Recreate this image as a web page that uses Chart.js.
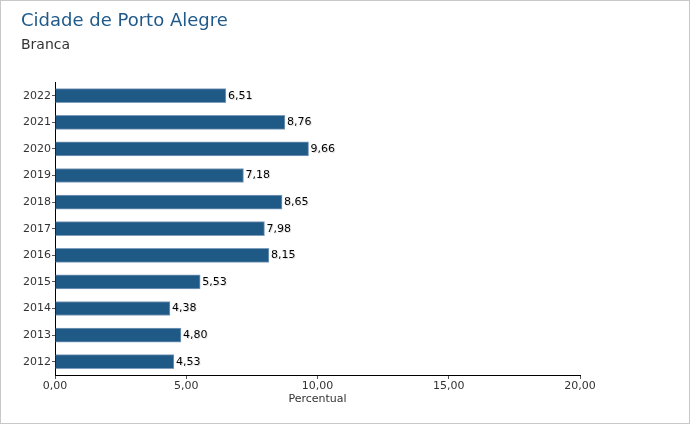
<!DOCTYPE html>
<html>
<head>
<meta charset="utf-8">
<script src="https://cdn.jsdelivr.net/npm/chart.js@4/dist/chart.umd.min.js"></script>
<style>
  body { margin: 0; background: #fff; }
  canvas { display: block; }
</style>
</head>
<body>
<canvas id="barchart" width="690" height="425"></canvas>
<script>
// dados -------- Cidade de Porto Alegre / Branca
const anos = ["2022", "2021", "2020", "2019", "2018", "2017", "2016", "2015", "2014", "2013", "2012"];
const percentual = [6.51, 8.76, 9.66, 7.18, 8.65, 7.98, 8.15, 5.53, 4.38, 4.80, 4.53];
const xticks = [0, 5, 10, 15, 20];

function fmt(v) {
  return v.toFixed(2).replace(".", ",");
}

// moldura + fundo
const frame = {
  id: "frame",
  beforeDraw(chart) {
    const ctx = chart.ctx;
    ctx.save();
    ctx.fillStyle = "#fff";
    ctx.fillRect(0, 0, chart.width, chart.height);
    ctx.strokeStyle = "#c8c8c8";
    ctx.lineWidth = 1;
    ctx.strokeRect(0.5, 0.5, chart.width - 1, chart.height - 2);
    ctx.restore();
  }
};

// rotulos no fim das barras
const valueLabels = {
  id: "valueLabels",
  afterDatasetsDraw(chart) {
    const ctx = chart.ctx;
    const meta = chart.getDatasetMeta(0);
    ctx.save();
    ctx.font = "11px 'DejaVu Sans'";
    ctx.textBaseline = "middle";
    ctx.textAlign = "left";
    meta.data.forEach(function(bar, i) {
      const txt = fmt(chart.data.datasets[0].data[i]);
      ctx.fillStyle = "rgba(0,0,0,0.12)";
      ctx.fillText(txt, bar.x + 3, bar.y + 1);
      ctx.fillStyle = "#000";
      ctx.fillText(txt, bar.x + 2, bar.y);
    });
    ctx.restore();
  }
};

const config = {
  type: "bar",
  data: {
    labels: anos,
    datasets: [
      {
        label: "Percentual",
        data: percentual,
        backgroundColor: "#1f5985",
        borderColor: "#7f9dbd",
        borderWidth: 1,
        borderSkipped: "start",
        barThickness: 14
      }
    ]
  },
  options: {
    indexAxis: "y",
    responsive: false,
    animation: false,
    layout: {
      padding: { top: 8, left: 21, right: 110, bottom: 15 }
    },
    plugins: {
      legend: { display: false },
      tooltip: { enabled: false },
      title: {
        display: true,
        text: "Cidade de Porto Alegre",
        align: "start",
        color: "#1f5a8a",
        font: { family: "DejaVu Sans", size: 18, weight: "normal" },
        padding: { top: 3, bottom: 3 }
      },
      subtitle: {
        display: true,
        text: "Branca",
        align: "start",
        color: "#333",
        font: { family: "DejaVu Sans", size: 14, weight: "normal" },
        padding: { top: 1, bottom: 29 }
      }
    },
    scales: {
      x: {
        min: 0,
        max: 20,
        afterFit: function(scale) { scale.height = 35; },
        afterBuildTicks: function(scale) {
          scale.ticks = xticks.map(function(v) { return { value: v }; });
        },
        ticks: {
          color: "#333",
          padding: 1,
          maxRotation: 0,
          font: { family: "DejaVu Sans", size: 11 },
          callback: function(v) { return fmt(v); }
        },
        grid: { drawOnChartArea: false, tickLength: 4, color: "#555" },
        border: { color: "#000", width: 1 },
        title: {
          display: true,
          text: "Percentual",
          color: "#333",
          font: { family: "DejaVu Sans", size: 11 },
          padding: { top: 4, bottom: 4 }
        }
      },
      y: {
        afterFit: function(scale) { scale.width = 34; },
        ticks: {
          color: "#333",
          padding: 1,
          font: { family: "DejaVu Sans", size: 11 }
        },
        grid: { drawOnChartArea: false, tickLength: 3, color: "#555", offset: false },
        border: { color: "#000", width: 1 }
      }
    }
  },
  plugins: [frame, valueLabels]
};

let barchart = null;
if (document.getElementById("barchart")) {
  barchart = new Chart(document.getElementById("barchart"), config);
}
</script>
</body>
</html>
